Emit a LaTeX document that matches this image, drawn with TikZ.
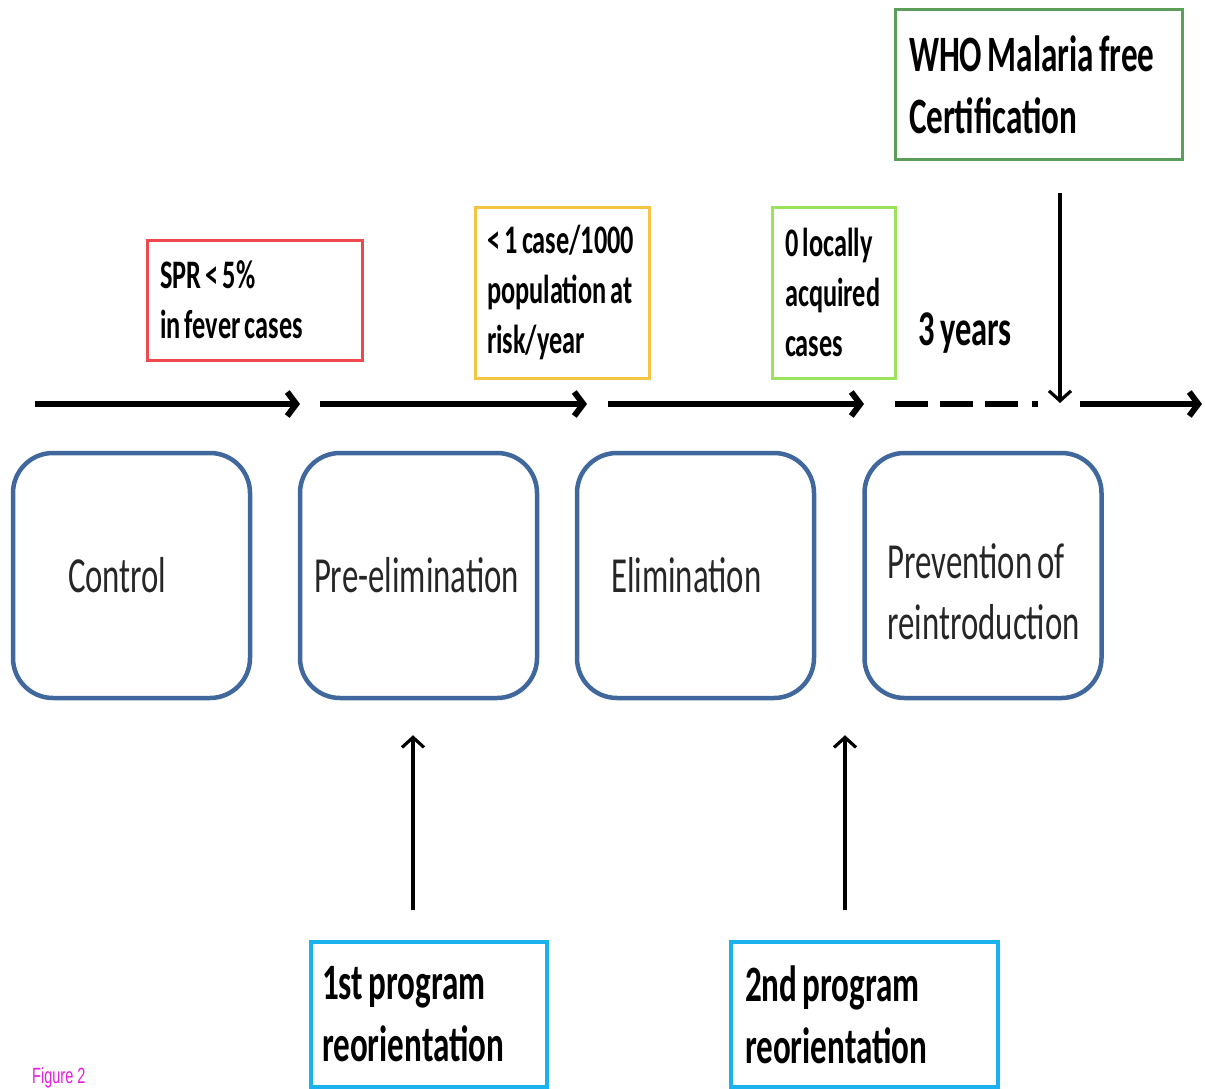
\documentclass[tikz,border=0pt]{standalone}
\usepackage{fontspec}
\usetikzlibrary{arrows.meta}
\newfontfamily\calfont[FakeStretch=0.65,WordSpace=0.72]{Carlito}
\newfontfamily\figfont[FakeStretch=0.66]{Liberation Sans}
\newcommand\natsp{\spaceskip=0pt\xspaceskip=0pt\relax}
\definecolor{stageblue}{HTML}{41689C}
\definecolor{redc}{HTML}{F0484F}
\definecolor{yellowc}{HTML}{F4C542}
\definecolor{lgreenc}{HTML}{9BE35A}
\definecolor{dgreenc}{HTML}{5A9E5A}
\definecolor{cyanc}{HTML}{1AB2EE}
\definecolor{figmag}{HTML}{E61EDC}
\begin{document}
\begin{tikzpicture}[x=1pt,y=-1pt,
  stagebox/.style={draw=stageblue, line width=4.5pt, rounded corners=40pt,
    minimum width=237pt, minimum height=245pt, align=left,
    font=\calfont\fontsize{50.5}{61}\selectfont, text=black!85},
  lblbox/.style={draw, line width=3pt, align=left, inner ysep=0pt,
    font=\calfont\bfseries\fontsize{40.5}{50}\selectfont},
  bigbox/.style={draw, align=left, inner ysep=0pt,
    font=\calfont\bfseries\fontsize{51}{62}\selectfont},
  thickarr/.style={line width=6pt, -{Straight Barb[length=9pt,width=24pt]}},
  thinarr/.style={line width=3.2pt, -{Straight Barb[length=10pt,width=22pt]}}]
\useasboundingbox (0,0) rectangle (1205,1089);

% stage boxes
\node[stagebox, inner xsep=55pt, text width=127pt] (ctrl) at (131.5,575.5) {Control};
\node[stagebox, inner xsep=14pt, text width=209pt] (pre) at (418.5,575.5) {Pre-elimination};
\node[stagebox, inner xsep=34pt, text width=169pt] (elim) at (695.5,575.5) {Elimination};
\node[stagebox, inner xsep=23pt, text width=191pt] (prev) at (983,575.5) {\natsp\rule{0pt}{68pt}\mbox{Prevention of}\\reintroduction};

% criteria boxes
\node[lblbox, draw=redc, minimum width=215pt, minimum height=120pt, inner xsep=13pt, text width=189pt]
  (spr) at (254.5,300) {\natsp\mbox{SPR < 5\%}\\\mbox{in fever cases}};
\node[lblbox, draw=yellowc, minimum width=174pt, minimum height=171pt, inner xsep=12pt, text width=150pt]
  (inc) at (562,292.5) {\natsp\mbox{< 1 case/1000}\\\mbox{population at}\\risk/year};
\node[lblbox, draw=lgreenc, minimum width=123pt, minimum height=171pt, inner xsep=13pt, text width=97pt]
  (zero) at (833.5,292.5) {\natsp\mbox{0 locally}\\acquired\\cases};
\node[bigbox, draw=dgreenc, line width=3pt, minimum width=287pt, minimum height=150pt, inner xsep=14pt, text width=259pt]
  (who) at (1038.5,85) {\natsp\mbox{WHO Malaria free}\\Certification};
\node[font=\calfont\bfseries\fontsize{50}{60}\selectfont] (yrs) at (965,333) {3 years};

% reorientation boxes
\node[bigbox, draw=cyanc, line width=4pt, minimum width=236pt, minimum height=145pt, inner xsep=11pt, text width=214pt]
  (p1) at (429,1014.5) {\natsp\mbox{1st program}\\reorientation};
\node[bigbox, draw=cyanc, line width=4pt, minimum width=267pt, minimum height=145pt, inner xsep=14pt, text width=239pt]
  (p2) at (864.5,1014.5) {\natsp\mbox{2nd program}\\reorientation};

% timeline coordinates
\coordinate (t0) at (35,404);
\coordinate (t1) at (300,404);
\coordinate (t2) at (320,404);
\coordinate (t3) at (587,404);
\coordinate (t4) at (608,404);
\coordinate (t5) at (864,404);
\coordinate (t6) at (895,404);
\coordinate (t7) at (1040,404);
\coordinate (t8) at (1080,404);
\coordinate (t9) at (1202,404);
\draw[thickarr] (t0) -- (t1);
\draw[thickarr] (t2) -- (t3);
\draw[thickarr] (t4) -- (t5);
\draw[line width=6pt, dash pattern=on 33pt off 12pt on 33pt off 12pt on 33pt off 14pt on 6pt off 200pt] (t6) -- (t7);
\draw[thickarr] (t8) -- (t9);

% vertical arrows
\coordinate (wx) at (1060,0);
\coordinate (whotip) at (1060,403);
\draw[thinarr, shorten <=31.5pt] (who.south -| wx) -- (whotip);
\coordinate (x1) at (413,0);
\coordinate (x2) at (845,0);
\draw[thinarr, shorten <=30pt, shorten >=35pt] (p1.north -| x1) -- (pre.south -| x1);
\draw[thinarr, shorten <=30pt, shorten >=35pt] (p2.north -| x2) -- (elim.south -| x2);

\node[anchor=base west, inner sep=0pt, font=\figfont\fontsize{22}{22}\selectfont, text=figmag] (fig) at (32,1083) {Figure 2};
\end{tikzpicture}
\end{document}
